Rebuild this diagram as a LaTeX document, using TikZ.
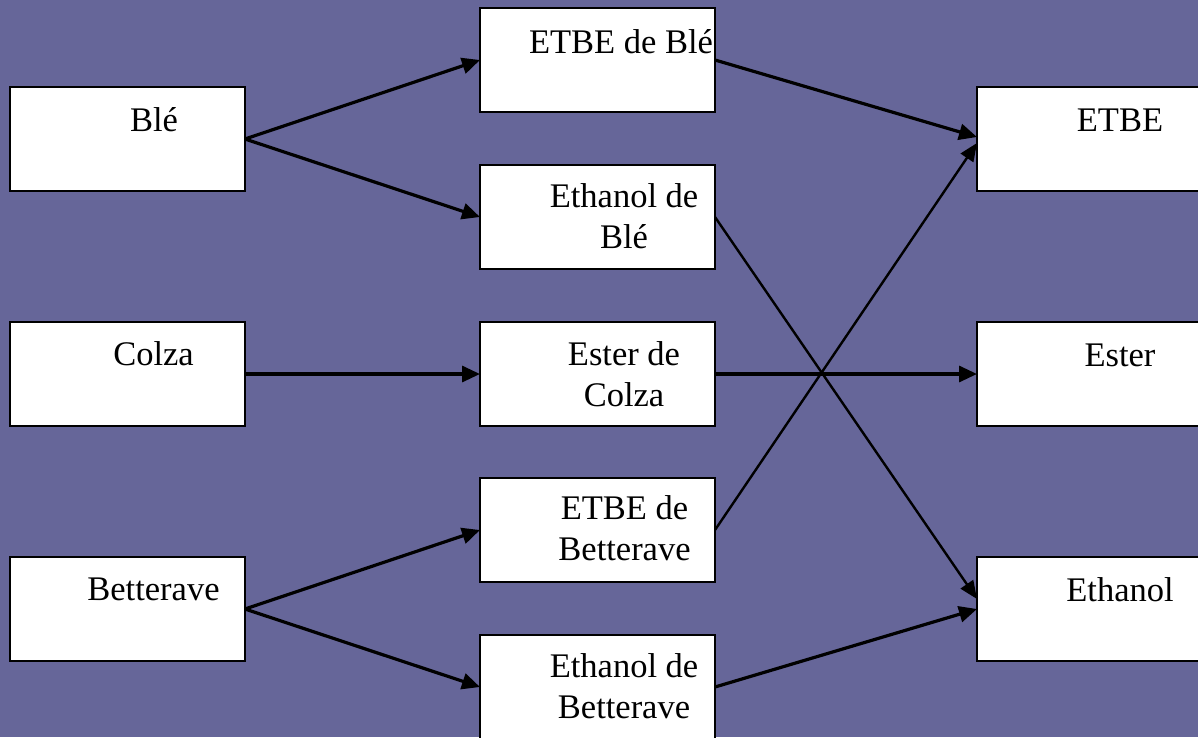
\documentclass[tikz,border=0pt]{standalone}
\usepackage{fontspec}
\setmainfont{Liberation Serif}
\usetikzlibrary{arrows.meta,calc}
\definecolor{bg}{HTML}{666699}
\begin{document}
\begin{tikzpicture}[x=1pt,y=-1pt,
 box/.style={draw=black,line width=2pt,fill=white,minimum width=235pt,minimum height=104pt,inner sep=0pt,outer sep=0pt},
 lbl/.style={anchor=base,align=center,font=\fontsize{34.5}{40.5}\selectfont,inner sep=0pt},
 arr/.style={line width=3.2pt,-{Triangle[length=18pt,width=16pt]}},
 arrthin/.style={line width=2.4pt,-{Triangle[length=18pt,width=15pt]}}]
\fill[bg] (0,0) rectangle (1198,737);
\useasboundingbox (0,0) rectangle (1198,737);
% left column
\node[box] (ble) at (127.5,139) {};
\node[box] (colza) at (127.5,374) {};
\node[box] (bett) at (127.5,609) {};
% middle column
\node[box] (etbeble) at (597.5,60) {};
\node[box] (ethble) at (597.5,217) {};
\node[box] (estercolza) at (597.5,374) {};
\node[box] (etbebett) at (597.5,530) {};
\node[box] (ethbett) at (597.5,687) {};
% right column
\node[box] (etbe) at (1094.5,139) {};
\node[box] (ester) at (1094.5,374) {};
\node[box] (ethanol) at (1094.5,609) {};
% labels (base anchor = baseline of last line)
\node[lbl] (tble) at ($(ble.north)+(26.5,44)$) {Blé};
\node[lbl] (tcolza) at ($(colza.north)+(26,43.5)$) {Colza};
\node[lbl] (tbett) at ($(bett.north)+(26,43.5)$) {Betterave};
\node[lbl] (tetbeble) at ($(etbeble.north)+(23.5,45)$) {ETBE de Blé};
\node[lbl] (tethble) at ($(ethble.north)+(26.5,83)$) {Ethanol de\\Blé};
\node[lbl] (testercolza) at ($(estercolza.north)+(26.5,84)$) {Ester de\\Colza};
\node[lbl] (tetbebett) at ($(etbebett.north)+(27,82)$) {ETBE de\\Betterave};
\node[lbl] (tethbett) at ($(ethbett.north)+(26.5,83)$) {Ethanol de\\Betterave};
\node[lbl] (tetbe) at ($(etbe.north)+(25.5,44)$) {ETBE};
\node[lbl] (tester) at ($(ester.north)+(25.5,44)$) {Ester};
\node[lbl] (tethanol) at ($(ethanol.north)+(25.5,44)$) {Ethanol};
% connectors
\draw[arr] (ble.east) -- (etbeble.west);
\draw[arr] (ble.east) -- (ethble.west);
\draw[arr] (colza.east) -- (estercolza.west);
\draw[arr] (bett.east) -- (etbebett.west);
\draw[arr] (bett.east) -- (ethbett.west);
\draw[arr] (etbeble.east) -- ($(etbe.west)+(0,-2)$);
\draw[arrthin] (ethble.east) -- ($(ethanol.west)+(0,-10)$);
\draw[arr] (estercolza.east) -- (ester.west);
\draw[arrthin] (etbebett.east) -- ($(etbe.west)+(0,4)$);
\draw[arr] (ethbett.east) -- (ethanol.west);
\end{tikzpicture}
\end{document}
